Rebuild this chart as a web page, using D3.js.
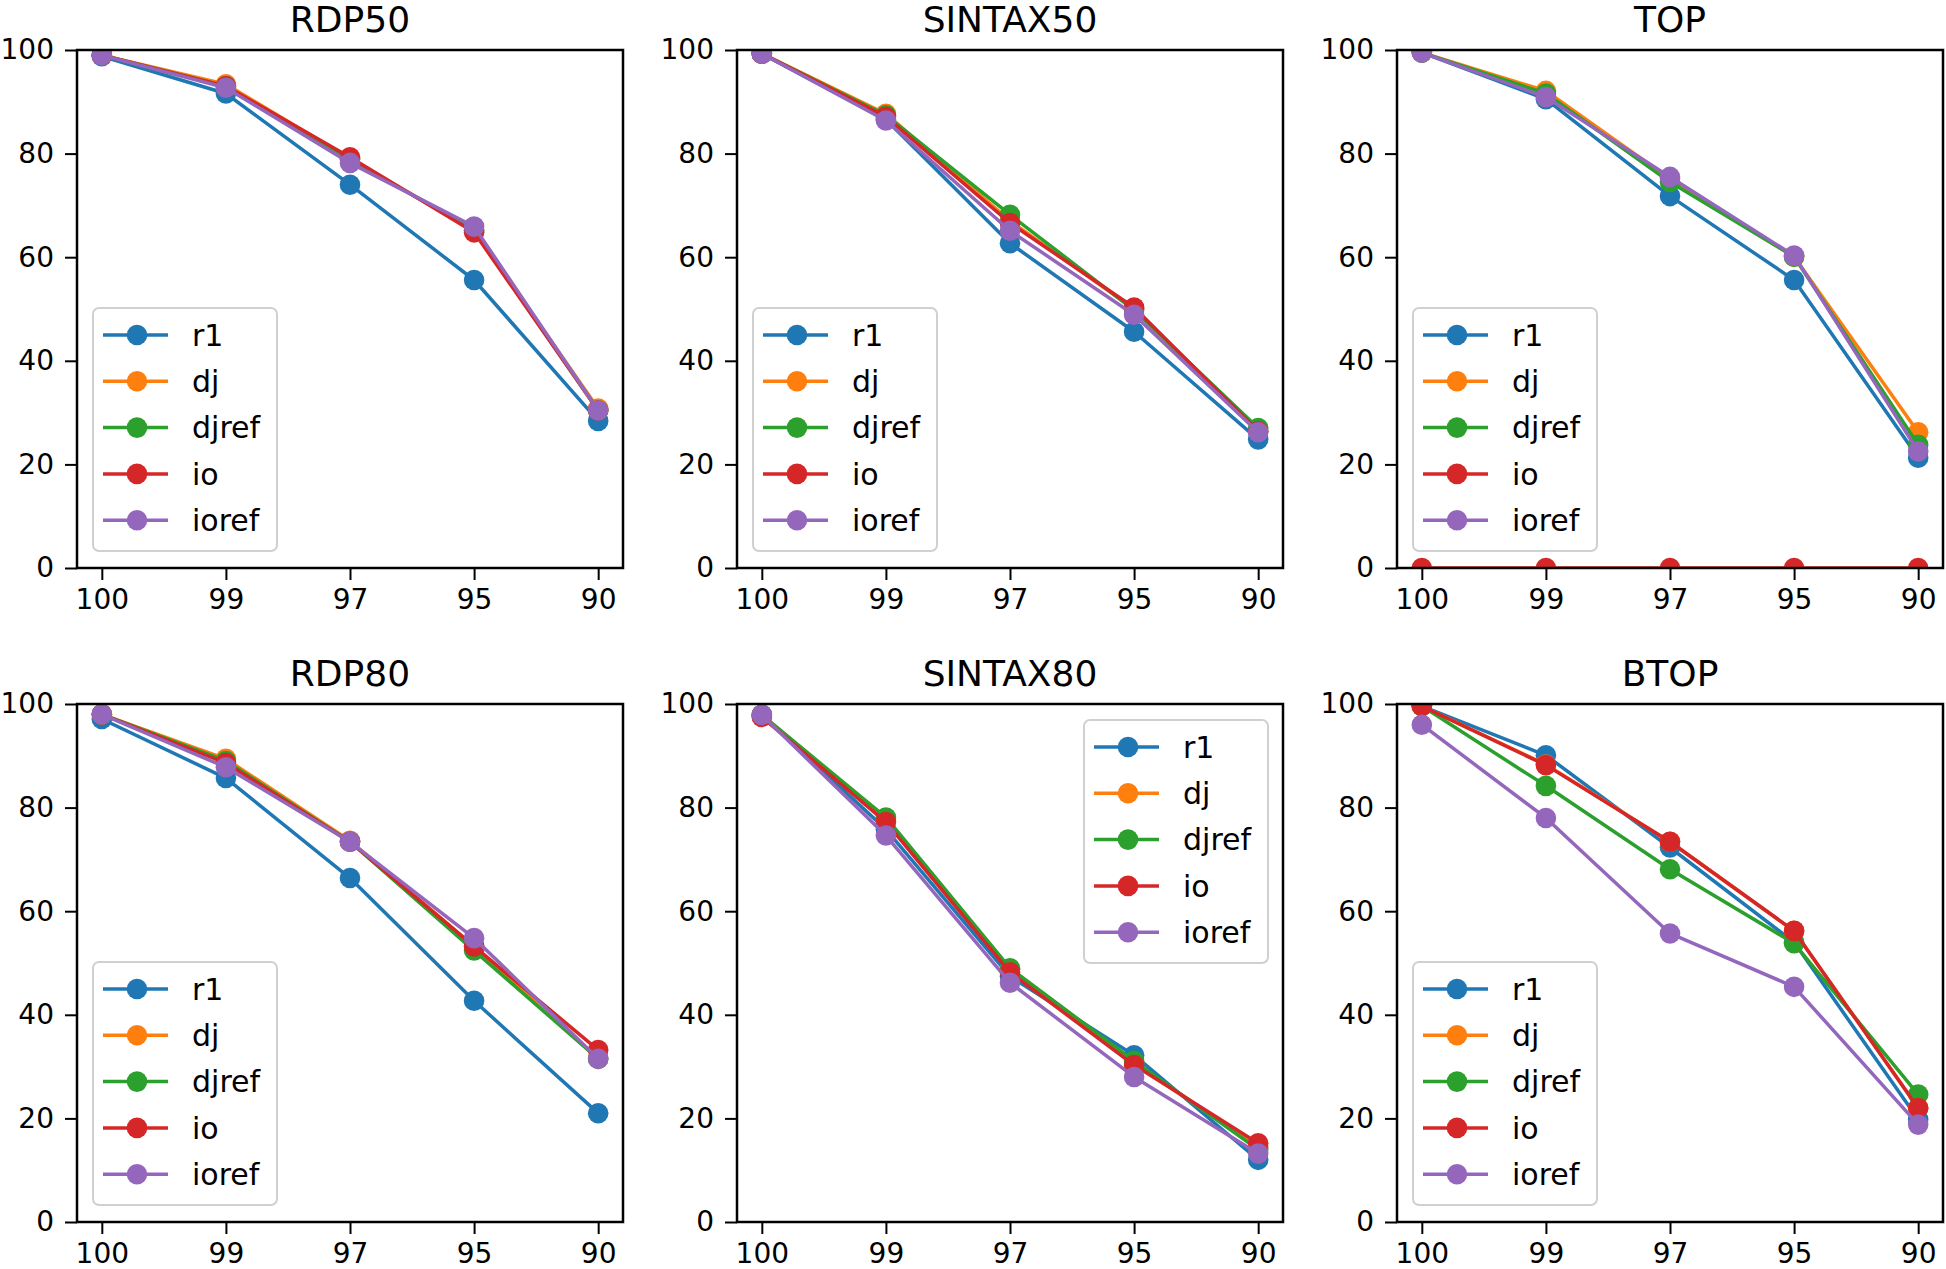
<!DOCTYPE html>
<html>
<head>
<meta charset="utf-8">
<script src="https://cdn.jsdelivr.net/npm/d3@7"></script>
<style>
  html, body { margin: 0; padding: 0; background: #ffffff; }
  svg { display: block; font-family: "DejaVu Sans", sans-serif; }
</style>
</head>
<body>
<svg id="chart" width="1946" height="1269"></svg>
<script>
// ---------- data ----------
const categories = ["100", "99", "97", "95", "90"];
const seriesNames = ["r1", "dj", "djref", "io", "ioref"];
const seriesColors = ["#1f77b4", "#ff7f0e", "#2ca02c", "#d62728", "#9467bd"];
const panelTitles = ["RDP50", "SINTAX50", "TOP", "RDP80", "SINTAX80", "BTOP"];
const yTicks = [0, 20, 40, 60, 80, 100];

// series values in order r1, dj, djref, io, ioref
const rdp50 = [
  [98.8, 91.6, 74.0, 55.6, 28.4],
  [99.0, 93.4, 79.0, 65.2, 30.8],
  [99.0, 93.0, 78.9, 65.2, 30.4],
  [99.0, 93.0, 79.3, 64.8, 30.4],
  [99.0, 92.7, 78.2, 65.9, 30.4]
];
const sintax50 = [
  [99.3, 86.6, 62.7, 45.6, 24.8],
  [99.3, 87.7, 67.0, 50.0, 26.4],
  [99.3, 87.4, 68.2, 49.8, 27.0],
  [99.3, 87.1, 66.6, 50.3, 26.4],
  [99.3, 86.4, 65.1, 48.9, 26.2]
];
const top_ = [
  [99.5, 90.5, 71.8, 55.6, 21.3],
  [99.5, 92.1, 75.1, 60.1, 26.2],
  [99.5, 91.6, 74.5, 60.1, 23.8],
  [0, 0, 0, 0, 0],
  [99.5, 90.9, 75.5, 60.3, 22.5]
];
const rdp80 = [
  [97.1, 85.7, 66.4, 42.7, 21.0],
  [98.0, 89.4, 73.6, 53.2, 31.5],
  [98.0, 89.0, 73.4, 52.4, 31.5],
  [98.0, 88.6, 73.4, 53.2, 33.2],
  [98.0, 87.8, 73.4, 54.8, 31.5]
];
const sintax80 = [
  [97.9, 75.8, 47.4, 32.2, 12.0],
  [97.9, 77.5, 48.8, 30.7, 14.5],
  [97.9, 78.1, 49.0, 31.1, 14.0],
  [97.5, 77.2, 48.2, 30.3, 15.2],
  [97.9, 74.6, 46.2, 28.0, 13.2]
];
const btop = [
  [99.6, 90.1, 72.3, 54.0, 19.8],
  [99.6, 88.3, 73.4, 56.2, 22.0],
  [99.6, 84.2, 68.1, 53.8, 24.6],
  [99.6, 88.2, 73.4, 56.2, 22.0],
  [96.0, 78.0, 55.7, 45.4, 18.8]
];
const panelData = [rdp50, sintax50, top_, rdp80, sintax80, btop];
const legendPlacement = ["lower left", "lower left", "lower left", "lower left", "upper right", "lower left"];

// ---------- layout ----------
const axLefts = [77, 737, 1397];
const axTops = [50, 704];
const axW = 546, axH = 518;

const svg = d3.select("#chart");

panelData.forEach((data, pi) => {
  const col = pi % 3, row = Math.floor(pi / 3);
  const ox = axLefts[col], oy = axTops[row];
  const g = svg.append("g").attr("transform", `translate(${ox},${oy})`);

  // matplotlib 5% margins: span = axW/1.1
  const pad = axW * 0.05 / 1.1;
  const x = d3.scalePoint().domain(categories).range([pad, axW - pad]).padding(0);
  const y = d3.scaleLinear().domain([0, 100]).range([axH, 0]);

  const clipId = "clip" + pi;
  g.append("clipPath").attr("id", clipId)
    .append("rect").attr("x", 0).attr("y", 0).attr("width", axW).attr("height", axH);

  const plot = g.append("g").attr("clip-path", `url(#${clipId})`);
  const line = d3.line().x((d, i) => x(categories[i])).y(d => y(d));

  data.forEach((vals, si) => {
    const sg = plot.append("g");
    sg.append("path").datum(vals)
      .attr("d", line)
      .attr("fill", "none")
      .attr("stroke", seriesColors[si])
      .attr("stroke-width", 3.5)
      .attr("stroke-linejoin", "round")
      .attr("stroke-linecap", "square");
    sg.selectAll("circle").data(vals).join("circle")
      .attr("cx", (d, i) => x(categories[i]))
      .attr("cy", d => y(d))
      .attr("r", 10.3)
      .attr("fill", seriesColors[si]);
  });

  // spines
  g.append("rect").attr("x", 0).attr("y", 0).attr("width", axW).attr("height", axH)
    .attr("fill", "none").attr("stroke", "#000").attr("stroke-width", 2.5);

  // axes
  const xAxis = g.append("g").attr("transform", `translate(0,${axH})`)
    .call(d3.axisBottom(x).tickSize(12).tickPadding(9).tickSizeOuter(0));
  const yAxis = g.append("g")
    .call(d3.axisLeft(y).tickValues(yTicks).tickFormat(d3.format("d")).tickSize(12).tickPadding(11).tickSizeOuter(0));
  [xAxis, yAxis].forEach(a => {
    a.select(".domain").remove();
    a.selectAll(".tick line").attr("stroke", "#000").attr("stroke-width", 2);
    a.selectAll(".tick text").attr("fill", "#000").style("font-size", "28px")
      .style("font-family", "'DejaVu Sans', sans-serif");
  });

  // title
  g.append("text").attr("x", axW / 2).attr("y", -18)
    .attr("text-anchor", "middle")
    .style("font-size", "36px").style("font-family", "'DejaVu Sans', sans-serif")
    .attr("fill", "#000")
    .text(panelTitles[pi]);

  // legend
  const lgW = 184, lgH = 243;
  let lx, ly;
  if (legendPlacement[pi] === "upper right") {
    lx = axW - 15 - lgW; ly = 16;
  } else {
    lx = 16; ly = axH - 17 - lgH;
  }
  const lg = g.append("g").attr("transform", `translate(${lx},${ly})`);
  lg.append("rect").attr("x", 0).attr("y", 0).attr("width", lgW).attr("height", lgH)
    .attr("rx", 6).attr("ry", 6)
    .attr("fill", "#ffffff").attr("fill-opacity", 0.8)
    .attr("stroke", "#d0d0d0").attr("stroke-width", 2);
  seriesNames.forEach((name, si) => {
    const cy = 27 + si * 46.3;
    lg.append("line").attr("x1", 10).attr("x2", 75).attr("y1", cy).attr("y2", cy)
      .attr("stroke", seriesColors[si]).attr("stroke-width", 3.5);
    lg.append("circle").attr("cx", 44).attr("cy", cy).attr("r", 10.3).attr("fill", seriesColors[si]);
    lg.append("text").attr("x", 99).attr("y", cy).attr("dy", "0.36em")
      .style("font-size", "30px").style("font-family", "'DejaVu Sans', sans-serif")
      .attr("fill", "#000").text(name);
  });
});
</script>
</body>
</html>
